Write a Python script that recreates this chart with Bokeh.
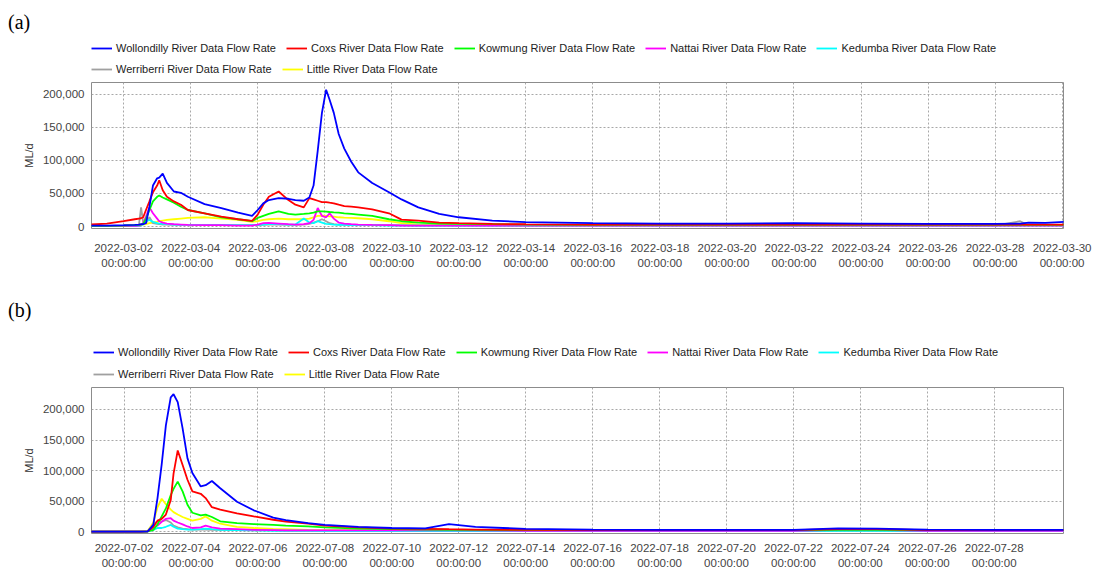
import pandas as pd
from bokeh.plotting import figure
from bokeh.models import (ColumnDataSource, Legend, LegendItem, FixedTicker, DatetimeAxis, Grid,
                          DatetimeTickFormatter, NumeralTickFormatter, Range1d, Div)
from bokeh.layouts import column
from bokeh.embed import file_html
from bokeh.resources import INLINE

series_names = ["Wollondilly River Data Flow Rate", "Coxs River Data Flow Rate",
                "Kowmung River Data Flow Rate", "Nattai River Data Flow Rate",
                "Kedumba River Data Flow Rate", "Werriberri River Data Flow Rate",
                "Little River Data Flow Rate"]
series_keys = ["wollondilly", "coxs", "kowmung", "nattai", "kedumba", "werriberri", "little"]
series_colors = ["#0000ff", "#ff0000", "#00ff00", "#ff00ff", "#00ffff", "#a0a0a0", "#ffff00"]

# ---------------- panel (a) : March 2022 ----------------
times_a = [
    "2022-03-01 00:00", "2022-03-01 12:00", "2022-03-02 00:00", "2022-03-02 08:00", "2022-03-02 11:00",
    "2022-03-02 12:30", "2022-03-02 14:00", "2022-03-02 16:00", "2022-03-02 18:30", "2022-03-02 21:00",
    "2022-03-03 00:00", "2022-03-03 01:30", "2022-03-03 04:00", "2022-03-03 07:00", "2022-03-03 12:00",
    "2022-03-03 17:00", "2022-03-03 22:00", "2022-03-04 10:00", "2022-03-04 22:00", "2022-03-05 10:00",
    "2022-03-05 20:00", "2022-03-06 00:00", "2022-03-06 04:00", "2022-03-06 08:00", "2022-03-06 15:00",
    "2022-03-06 22:00", "2022-03-07 03:00", "2022-03-07 09:00", "2022-03-07 13:00", "2022-03-07 16:00",
    "2022-03-07 19:00", "2022-03-07 22:00", "2022-03-08 01:00", "2022-03-08 03:30", "2022-03-08 06:30",
    "2022-03-08 10:00", "2022-03-08 14:00", "2022-03-08 19:00", "2022-03-09 00:00", "2022-03-09 10:00",
    "2022-03-09 22:00", "2022-03-10 07:00", "2022-03-10 19:00", "2022-03-11 10:00", "2022-03-12 00:00",
    "2022-03-13 00:00", "2022-03-14 00:00", "2022-03-16 00:00", "2022-03-18 00:00", "2022-03-20 00:00",
    "2022-03-22 00:00", "2022-03-24 00:00", "2022-03-26 00:00", "2022-03-28 00:00", "2022-03-28 18:00",
    "2022-03-29 00:00", "2022-03-29 12:00", "2022-03-30 02:00"]
wollondilly_a = [1500, 1500, 2000, 2500, 3000, 3500, 3500, 5000, 30000, 62000,
                 73000, 74000, 80000, 66000, 53000, 51000, 45000, 34000, 28000, 21000,
                 16000, 25000, 35000, 40000, 43000, 42000, 40000, 39000, 44000, 62000,
                 115000, 172000, 207000, 192000, 172000, 140000, 118000, 98000, 82000, 66000,
                 52000, 41000, 29000, 19000, 14000, 9000, 6500, 5000, 4500, 4500,
                 5000, 4500, 4000, 4000, 4500, 6000, 5500, 7000]
coxs_a = [3000, 4500, 8000, 11000, 12000, 12500, 14000, 25000, 38000, 52000,
          62000, 70000, 55000, 45000, 38000, 33000, 25000, 20000, 15000, 11000,
          8500, 18000, 33000, 45000, 53000, 40000, 33000, 29000, 43000, 41000,
          39000, 37000, 37000, 36000, 35000, 33000, 31000, 30000, 29000, 26000,
          20000, 10500, 9000, 6000, 5000, 4000, 3500, 3000, 3000, 3000,
          3000, 3000, 3000, 3000, 3000, 3000, 3000, 3000]
kowmung_a = [1000, 1000, 1500, 2000, 2500, 3000, 4000, 12000, 25000, 38000,
             45000, 47000, 44000, 41000, 36000, 30000, 25000, 20000, 14000, 11000,
             8000, 13000, 16000, 19000, 23000, 19000, 18000, 19000, 20000, 21000,
             23000, 23000, 22500, 22000, 21500, 21000, 20000, 19000, 18000, 16000,
             11000, 8000, 6000, 4500, 4000, 3500, 3000, 2500, 2500, 2500,
             2500, 2500, 2500, 2500, 2500, 2500, 2500, 2500]
nattai_a = [500, 500, 800, 1000, 1500, 2000, 5000, 15000, 29000, 20000,
            12000, 8000, 6000, 4500, 3500, 3000, 2500, 2000, 2000, 1500,
            1500, 3000, 5000, 5500, 4500, 3500, 3000, 3500, 5000, 10000,
            28000, 16000, 14000, 20000, 12000, 6000, 4500, 3500, 3000, 2500,
            2000, 1500, 1500, 1500, 1500, 1500, 1500, 1500, 1500, 1500,
            1500, 1500, 1500, 1500, 1500, 1500, 1500, 1500]
kedumba_a = [500, 500, 600, 800, 1000, 1500, 3000, 8000, 10000, 7000,
             5000, 4500, 4000, 3500, 3000, 2500, 2500, 2500, 2500, 2000,
             2000, 2500, 3000, 4000, 3500, 3000, 3000, 12000, 6000, 5000,
             8000, 6000, 4000, 3500, 3000, 2500, 2500, 2000, 2000, 2000,
             1500, 1500, 1500, 1500, 1500, 1500, 1500, 1500, 1500, 1500,
             1500, 1500, 1500, 1500, 1500, 1500, 1500, 1500]
werriberri_a = [500, 500, 800, 1000, 3000, 29000, 6000, 5000, 14000, 5000,
                4000, 3500, 3000, 3000, 2500, 2500, 2500, 2000, 2000, 2000,
                2000, 2000, 2500, 3000, 3000, 2500, 2500, 3000, 4000, 6000,
                8000, 11000, 8000, 5000, 3500, 3000, 2500, 2500, 2000, 2000,
                2000, 2000, 1500, 1500, 1500, 1500, 1500, 1500, 1500, 1500,
                1500, 1500, 1500, 1500, 8000, 2000, 2000, 2000]
little_a = [1000, 1000, 1500, 2000, 2500, 3000, 3000, 3500, 5000, 6000,
            7000, 8000, 9000, 10000, 11000, 12000, 13000, 14000, 12000, 10000,
            7000, 8000, 10000, 11000, 12000, 11000, 11000, 11000, 12000, 14000,
            16000, 16500, 16000, 15500, 15000, 14000, 13500, 13000, 12500, 11000,
            8000, 5000, 3000, 2500, 2000, 2000, 2000, 2000, 2000, 2000,
            2000, 2000, 2000, 2000, 2000, 2000, 2000, 2000]
ticks_a = ["2022-03-02", "2022-03-04", "2022-03-06", "2022-03-08", "2022-03-10",
           "2022-03-12", "2022-03-14", "2022-03-16", "2022-03-18", "2022-03-20",
           "2022-03-22", "2022-03-24", "2022-03-26", "2022-03-28", "2022-03-30"]
xrange_a = ["2022-03-01 01:00", "2022-03-30 01:00"]
yrange_a = [-3000, 218000]

# ---------------- panel (b) : July 2022 ----------------
times_b = [
    "2022-07-01 00:00", "2022-07-02 12:00", "2022-07-02 17:00", "2022-07-02 21:00", "2022-07-03 00:00",
    "2022-07-03 03:00", "2022-07-03 06:00", "2022-07-03 09:30", "2022-07-03 11:30", "2022-07-03 14:30",
    "2022-07-03 18:00", "2022-07-03 21:30", "2022-07-04 01:00", "2022-07-04 07:00", "2022-07-04 10:30",
    "2022-07-04 15:00", "2022-07-04 21:00", "2022-07-05 09:00", "2022-07-05 21:00", "2022-07-06 11:00",
    "2022-07-06 20:00", "2022-07-07 12:00", "2022-07-08 00:00", "2022-07-09 00:00", "2022-07-10 00:00",
    "2022-07-11 00:00", "2022-07-11 17:00", "2022-07-12 12:00", "2022-07-14 00:00", "2022-07-16 00:00",
    "2022-07-18 00:00", "2022-07-20 00:00", "2022-07-22 00:00", "2022-07-23 08:00", "2022-07-24 12:00",
    "2022-07-26 00:00", "2022-07-28 00:00", "2022-07-30 02:00"]
wollondilly_b = [200, 200, 500, 11000, 55000, 110000, 174000, 220000, 225000, 212000,
                 169000, 120000, 96000, 74000, 76000, 83000, 71000, 49000, 35000, 23000,
                 19000, 14000, 11000, 8000, 6000, 5500, 12500, 8000, 4500, 3500,
                 3000, 3000, 3000, 5500, 5000, 3500, 3000, 3000]
coxs_b = [200, 200, 500, 8000, 18000, 21000, 28000, 52000, 95000, 133000,
          109000, 85000, 66000, 62000, 55000, 40000, 36000, 30000, 25000, 19500,
          16500, 13000, 10000, 7000, 5000, 4500, 4000, 3500, 3000, 2500,
          2500, 2500, 2500, 4000, 4000, 2500, 2500, 2500]
kowmung_b = [100, 100, 300, 3000, 12000, 25000, 38000, 60000, 70000, 82000,
             66000, 44000, 31000, 26500, 28000, 24000, 17000, 14000, 12500, 11000,
             10000, 8500, 7000, 5000, 4000, 3500, 3000, 3000, 2500, 2500,
             2500, 2500, 2500, 3000, 3000, 2500, 2500, 2500]
nattai_b = [100, 100, 500, 6000, 10000, 16000, 21000, 22000, 18000, 15000,
            12000, 8500, 6000, 7000, 10000, 7000, 5000, 4000, 3000, 2500,
            2000, 2000, 2000, 2000, 2000, 2000, 2500, 2000, 1500, 1500,
            1500, 1500, 1500, 3000, 3000, 1500, 1500, 1500]
kedumba_b = [100, 100, 300, 3000, 6000, 6000, 8000, 11000, 8000, 5000,
             4000, 3500, 3500, 4000, 5000, 4000, 3000, 2500, 2000, 1500,
             1500, 1500, 1000, 1000, 1000, 1000, 1000, 1000, 1000, 1000,
             1000, 1000, 1000, 1500, 1500, 1000, 1000, 1000]
werriberri_b = [100, 100, 1000, 12000, 17000, 17000, 19000, 15000, 10000, 7000,
                5000, 4000, 3500, 3500, 3500, 3000, 3000, 2500, 2000, 2000,
                1500, 1500, 1500, 1500, 1500, 1500, 1500, 1500, 1500, 1500,
                1500, 1500, 1500, 1500, 1500, 1500, 1500, 1500]
little_b = [100, 100, 1000, 15000, 40000, 54000, 45000, 36000, 32000, 28000,
            24000, 21000, 18000, 21000, 25000, 18000, 13000, 8000, 6000, 4500,
            4000, 3000, 2500, 2500, 2000, 2000, 2000, 2000, 2000, 2000,
            2000, 2000, 2000, 2000, 2000, 2000, 2000, 2000]
ticks_b = ["2022-07-02", "2022-07-04", "2022-07-06", "2022-07-08", "2022-07-10",
           "2022-07-12", "2022-07-14", "2022-07-16", "2022-07-18", "2022-07-20",
           "2022-07-22", "2022-07-24", "2022-07-26", "2022-07-28"]
xrange_b = ["2022-07-01 00:40", "2022-07-30 01:40"]
yrange_b = [-3000, 236000]

y_ticks = [0, 50000, 100000, 150000, 200000]

FONT = "Liberation Sans"
FRAME_H = 146
FIG_W = 1092
LINE_W = 1.8


def to_ms(s):
    return pd.Timestamp(s).value / 1e6


def make_source(times, values):
    data = {"t": pd.to_datetime(times)}
    for k, v in zip(series_keys, values):
        data[k] = v
    return ColumnDataSource(data)


def style_axis(ax):
    ax.axis_line_color = None
    ax.major_tick_line_color = None
    ax.minor_tick_line_color = None
    ax.major_tick_out = 0
    ax.major_tick_in = 0
    ax.minor_tick_out = 0
    ax.minor_tick_in = 0
    ax.major_label_text_font = FONT
    ax.major_label_text_font_size = "11.5px"
    ax.major_label_text_color = "#444444"


def style_grid(g):
    g.grid_line_color = "#a8a8a8"
    g.grid_line_dash = "2 2"
    g.grid_line_width = 1


def make_legend_strip(src, xr, height, x0, row_bottoms):
    """Strip above a panel holding its two legend rows. The series are drawn here
    too, but the strip's value range lies below every flow value, so only the
    legend is visible."""
    q = figure(width=FIG_W, height=height, x_axis_type=None, y_axis_type=None,
               x_range=xr, y_range=Range1d(-2, -1),
               output_backend="svg", toolbar_location=None,
               min_border_left=0, min_border_right=0, min_border_top=0, min_border_bottom=0)
    q.outline_line_color = None
    keys = {}
    for k, c in zip(series_keys, series_colors):
        keys[k] = q.line("t", k, source=src, line_color=c, line_width=LINE_W)
    items = [LegendItem(label=n, renderers=[keys[k]]) for n, k in zip(series_names, series_keys)]
    for its, yb in ((items[:5], row_bottoms[0]), (items[5:], row_bottoms[1])):
        leg = Legend(items=its, orientation="horizontal", location=(x0, yb),
                     glyph_width=21, glyph_height=10, label_height=14,
                     label_standoff=4, spacing=10, padding=0, margin=0,
                     border_line_color=None, background_fill_alpha=0,
                     label_text_font=FONT, label_text_font_size="11px",
                     label_text_color="#222222")
        q.add_layout(leg)
    return q


def make_panel(src, ticks, xr, yr, b_left, b_right, b_bottom, date_standoff):
    p = figure(x_axis_type=None, width=FIG_W, height=1 + FRAME_H + b_bottom,
               x_range=xr, y_range=Range1d(yr[0], yr[1]),
               output_backend="svg", toolbar_location=None,
               min_border_left=b_left, min_border_right=b_right,
               min_border_top=1, min_border_bottom=b_bottom)
    for k, c in reversed(list(zip(series_keys, series_colors))):
        p.line("t", k, source=src, line_color=c, line_width=LINE_W)

    tick_ms = [to_ms(t) for t in ticks]
    ax_date = DatetimeAxis(ticker=FixedTicker(ticks=tick_ms),
                           formatter=DatetimeTickFormatter(days="%Y-%m-%d", months="%Y-%m-%d",
                                                           hours="%Y-%m-%d", years="%Y-%m-%d"))
    ax_time = DatetimeAxis(ticker=FixedTicker(ticks=tick_ms),
                           formatter=DatetimeTickFormatter(days="%H:%M:%S", months="%H:%M:%S",
                                                           hours="%H:%M:%S", years="%H:%M:%S"))
    style_axis(ax_date)
    style_axis(ax_time)
    ax_date.major_label_standoff = date_standoff
    ax_time.major_label_standoff = 2
    p.add_layout(ax_date, "below")
    p.add_layout(ax_time, "below")
    xgrid = Grid(dimension=0, ticker=FixedTicker(ticks=tick_ms))
    style_grid(xgrid)
    p.add_layout(xgrid)

    p.yaxis.ticker = FixedTicker(ticks=y_ticks)
    p.yaxis.formatter = NumeralTickFormatter(format="0,0")
    p.yaxis.axis_label = "ML/d"
    p.yaxis.axis_label_text_font = FONT
    p.yaxis.axis_label_text_font_size = "11px"
    p.yaxis.axis_label_text_font_style = "normal"
    p.yaxis.axis_label_text_color = "#333333"
    p.yaxis.axis_label_standoff = 5
    style_axis(p.yaxis[0])
    p.yaxis.major_label_standoff = 7
    style_grid(p.ygrid[0])
    p.outline_line_color = "#8c8c8c"
    p.outline_line_width = 1
    return p


src_a = make_source(times_a, [wollondilly_a, coxs_a, kowmung_a, nattai_a, kedumba_a,
                              werriberri_a, little_a])
src_b = make_source(times_b, [wollondilly_b, coxs_b, kowmung_b, nattai_b, kedumba_b,
                              werriberri_b, little_b])
xr_a = Range1d(to_ms(xrange_a[0]), to_ms(xrange_a[1]))
xr_b = Range1d(to_ms(xrange_b[0]), to_ms(xrange_b[1]))

leg_a = make_legend_strip(src_a, xr_a, 47, 0, (26, 5))
p_a = make_panel(src_a, ticks_a, xr_a, yrange_a, 89, 29, 50, 15)
leg_b = make_legend_strip(src_b, xr_b, 45, 2, (27, 5))
p_b = make_panel(src_b, ticks_b, xr_b, yrange_b, 91, 19, 40, 10)

label_style = {"font-family": "'Liberation Serif', 'Times New Roman', serif",
               "font-size": "20px", "color": "#000000"}
div_a = Div(text='<div style="padding-top:12px;padding-left:8px;line-height:20px">(a)</div>',
            width=60, height=34, margin=(0, 0, 0, 0), styles=label_style)
div_b = Div(text='<div style="padding-top:22px;padding-left:8px;line-height:20px">(b)</div>',
            width=60, height=63, margin=(0, 0, 0, 0), styles=label_style)

layout = column(div_a, leg_a, p_a, div_b, leg_b, p_b, spacing=0)

with open("out.html", "w") as f:
    f.write(file_html(layout, INLINE))
